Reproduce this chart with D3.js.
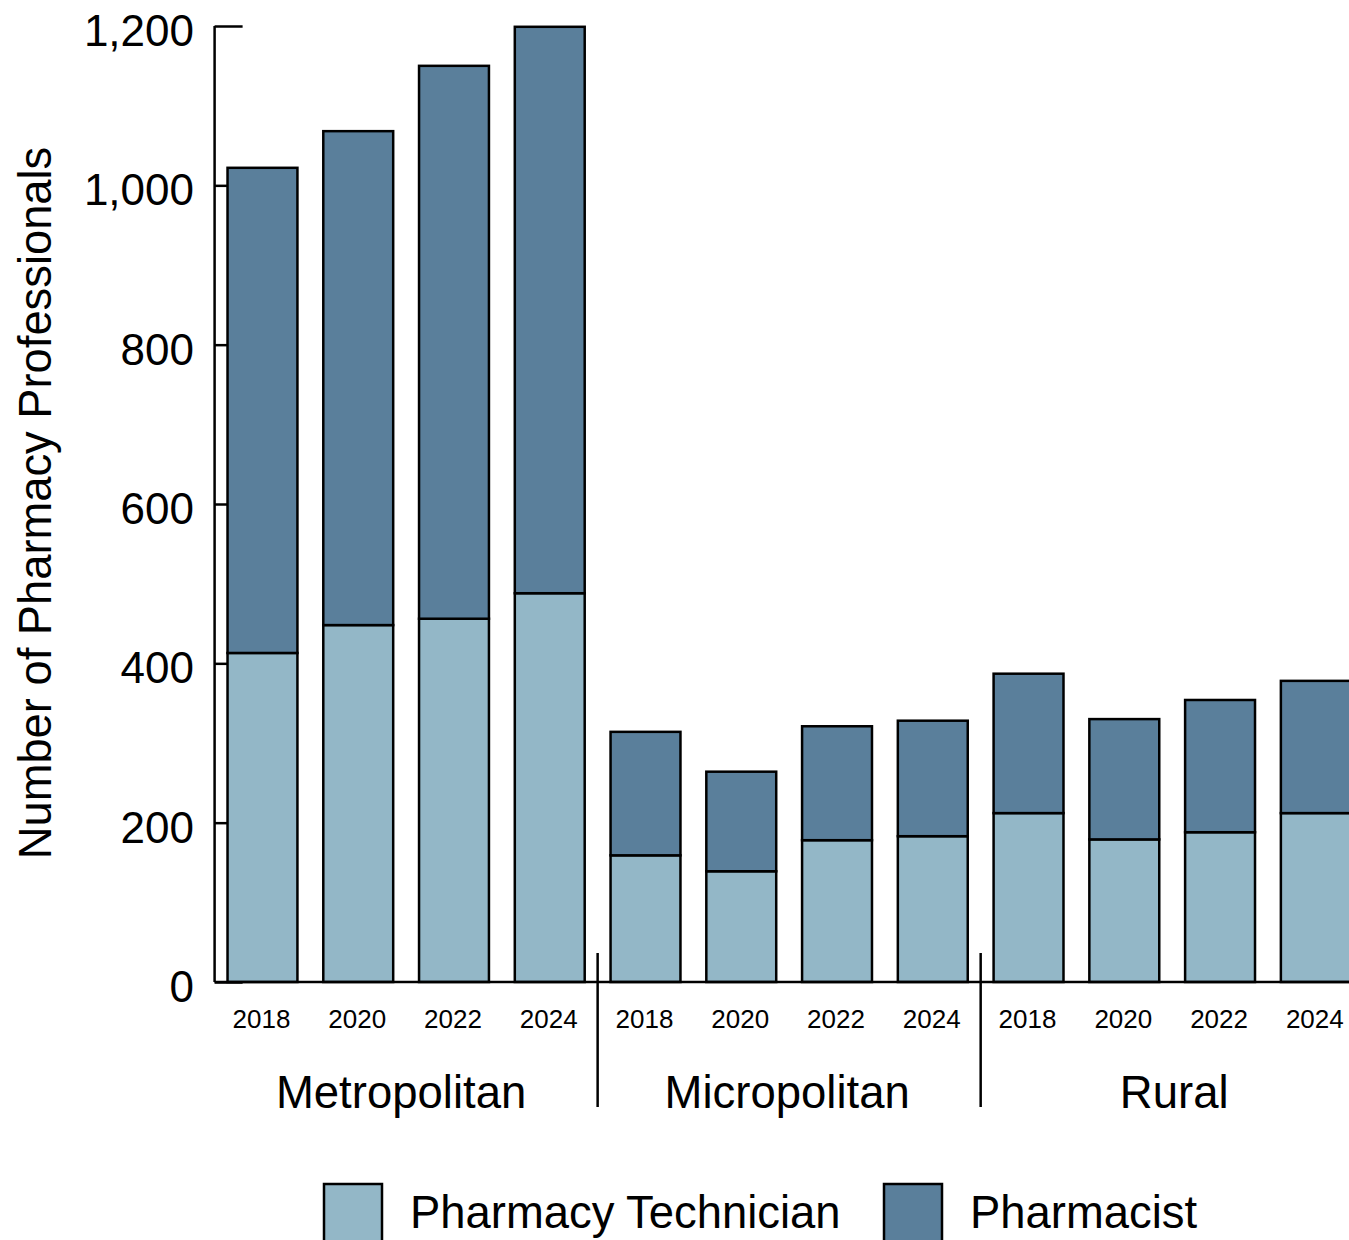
<!DOCTYPE html>
<html>
<head>
<meta charset="utf-8">
<script src="https://cdn.jsdelivr.net/npm/d3@7"></script>
<style>
  html, body { margin: 0; padding: 0; background: #fff; }
  svg { display: block; font-family: "Liberation Sans", Arial, sans-serif; }
</style>
</head>
<body>
<svg id="chart" width="1349" height="1240"></svg>
<script>
const regions = ["Metropolitan", "Micropolitan", "Rural"];
const years = ["2018", "2020", "2022", "2024"];
const technician = [413, 448, 456, 488, 159, 139, 178, 183, 212, 179, 188, 212];
const pharmacist = [609, 620, 694, 711, 155, 125, 143, 145, 175, 151, 166, 166];
const seriesNames = ["Pharmacy Technician", "Pharmacist"];
const seriesColors = ["#93b7c7", "#5a7f9b"];
const yTicks = [0, 200, 400, 600, 800, 1000, 1200];

const rows = [];
regions.forEach((r, ri) => years.forEach((y, yi) => {
  const i = ri * years.length + yi;
  rows.push({ key: r + "|" + y, region: r, year: y, tech: technician[i], pharm: pharmacist[i] });
}));

const svg = d3.select("#chart");
const x0 = 214.6, x1 = 1363.7, yTop = 26, yBot = 982;

const x = d3.scaleBand().domain(rows.map(d => d.key)).range([x0, x1])
  .paddingInner(0.27).paddingOuter(0.135);
const y = d3.scaleLinear().domain([0, 1200]).range([yBot, yTop]);

// Y axis (ticks pointing inward, drawn under bars)
const yAxis = svg.append("g").attr("transform", `translate(${x0},0)`)
  .call(d3.axisRight(y).tickValues(yTicks).tickSize(28).tickFormat(""));
yAxis.select(".domain").remove();
yAxis.selectAll(".tick line").attr("stroke", "#000").attr("stroke-width", 2.5);
svg.append("line").attr("x1", x0).attr("x2", x0).attr("y1", y(1200)).attr("y2", y(0))
  .attr("stroke", "#000").attr("stroke-width", 2.5);
svg.append("g").selectAll("text").data(yTicks).join("text")
  .attr("x", 194).attr("y", d => y(d) + 20)
  .attr("text-anchor", "end").attr("font-size", 44).attr("fill", "#000")
  .text(d => d3.format(",")(d));

// stacked bars
const stack = d3.stack().keys(["tech", "pharm"])(rows);
svg.append("g").selectAll("g").data(stack).join("g")
  .attr("fill", (d, i) => seriesColors[i])
  .selectAll("rect").data(d => d).join("rect")
  .attr("x", d => x(d.data.key)).attr("width", x.bandwidth())
  .attr("y", d => y(d[1])).attr("height", d => y(d[0]) - y(d[1]))
  .attr("stroke", "#000").attr("stroke-width", 2.5);

// X axis baseline
svg.append("line").attr("x1", x0).attr("x2", 1349).attr("y1", yBot).attr("y2", yBot)
  .attr("stroke", "#000").attr("stroke-width", 2.5);

// year labels
svg.append("g").selectAll("text").data(rows).join("text")
  .attr("x", d => x(d.key) + x.bandwidth() / 2 - 1).attr("y", 1028)
  .attr("text-anchor", "middle").attr("font-size", 26).attr("fill", "#000")
  .text(d => d.year);

// region labels and separators
const step = x.step();
const labelShift = [-5, -2, 2];
regions.forEach((r, ri) => {
  const start = x0 + ri * years.length * step;
  const end = start + years.length * step;
  svg.append("text").attr("x", (start + end) / 2 + labelShift[ri]).attr("y", 1108)
    .attr("text-anchor", "middle").attr("font-size", 45.5).attr("fill", "#000").text(r);
  if (ri > 0) {
    svg.append("line").attr("x1", start).attr("x2", start).attr("y1", 953).attr("y2", 1107)
      .attr("stroke", "#000").attr("stroke-width", 2.5);
  }
});

// y axis title
svg.append("text").attr("transform", "translate(51,503) rotate(-90)")
  .attr("text-anchor", "middle").attr("font-size", 45.3).attr("fill", "#000")
  .text("Number of Pharmacy Professionals");

// legend
const legendX = [324, 884];
seriesNames.forEach((n, i) => {
  svg.append("rect").attr("x", legendX[i]).attr("y", 1184).attr("width", 58).attr("height", 62)
    .attr("fill", seriesColors[i]).attr("stroke", "#000").attr("stroke-width", 2.5);
  svg.append("text").attr("x", legendX[i] + 86).attr("y", 1228)
    .attr("font-size", 45.4).attr("fill", "#000").text(n);
});
</script>
</body>
</html>
